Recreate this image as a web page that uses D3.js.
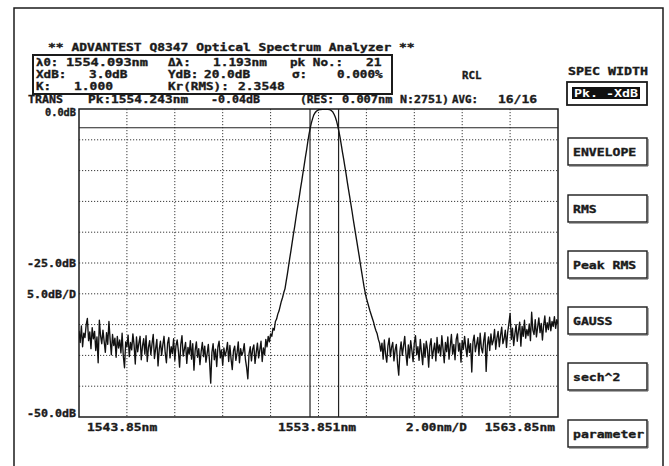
<!DOCTYPE html>
<html>
<head>
<meta charset="utf-8">
<script src="https://cdn.jsdelivr.net/npm/d3@7/dist/d3.min.js"></script>
<style>
  body { margin: 0; background: #fff; }
  svg text { font-family: "DejaVu Sans Mono", monospace; font-weight: bold; font-size: 10.5px; fill: #1b1b1b; stroke: #1b1b1b; stroke-width: 0.35px; }
</style>
</head>
<body>
<svg id="chart" width="669" height="466"></svg>
<script>
// sweep settings of the analyzer (start wavelength, sampling step)
const sweepStartNm = 1543.851
const sweepStepNm = 0.05

// measured level, dB, one value per sample
const levelDb = [
  // noise floor, short side
  -36.0, -37.9, -35.2, -38.6, -36.4, -37.1, -35.0, -34.0, -37.6, -36.2,
  -38.9, -35.5, -37.3, -36.1, -39.2, -37.0, -41.2, -34.3, -36.8, -38.1,
  -35.9, -37.7, -39.5, -36.3, -38.2, -34.5, -37.4, -39.9, -36.6, -38.4,
  -37.2, -40.3, -36.9, -38.8, -37.5, -39.6, -36.4, -40.1, -42.0, -37.8,
  -38.6, -36.7, -40.2, -37.9, -39.1, -36.5, -38.3, -41.4, -37.0, -39.4,
  -38.0, -36.9, -40.7, -38.5, -37.3, -39.8, -36.8, -41.0, -38.7, -37.6,
  -39.9, -38.1, -36.6, -40.5, -38.9, -37.4, -41.7, -39.0, -37.7, -40.0,
  -38.3, -36.9, -39.6, -41.2, -38.0, -37.1, -40.4, -38.6, -39.7, -37.3,
  -40.8, -38.4, -37.5, -39.3, -41.9, -38.2, -36.8, -40.1, -39.0, -37.9,
  -41.3, -38.7, -39.8, -37.6, -40.6, -38.1, -42.4, -39.2, -37.8, -40.3,
  -38.9, -41.5, -39.4, -37.9, -40.2, -38.5, -41.1, -39.7, -38.2, -40.9,
  -44.5, -39.5, -38.1, -40.7, -39.0, -41.8, -38.6, -37.7, -40.4, -39.1,
  -41.6, -38.8, -40.1, -39.3, -37.9, -41.0, -38.4, -40.6, -42.3, -39.2,
  -38.5, -40.8, -39.6, -37.8, -41.2, -38.9, -40.0, -39.4, -38.1, -40.7,
  -42.0, -43.8, -39.7, -38.6, -40.9, -39.0, -38.3, -41.3, -39.5, -38.0,
  -40.4, -39.1, -37.7, -41.0, -38.8, -39.9, -37.4, -38.6, -36.9, -37.8,
  // filter passband
  -36.5, -36.9, -35.6, -35.9, -34.5, -34.1, -33.3, -32.8, -32.0, -31.2,
  -30.6, -29.8, -29.2, -28.0, -26.8, -25.5, -24.2, -23.0, -21.7, -20.4,
  -19.2, -17.9, -16.6, -15.4, -14.2, -12.9, -11.7, -10.4, -9.2, -7.9,
  -6.7, -5.4, -4.2, -3.2, -2.3, -1.6, -1.0, -0.65, -0.4, -0.25,
  -0.15, -0.1, -0.08, -0.07, -0.06, -0.05, -0.04, -0.04, -0.05, -0.08,
  -0.15, -0.3, -0.5, -0.85, -1.3, -1.9, -2.7, -3.6, -4.6, -5.8,
  -7.0, -8.1, -9.3, -10.5, -11.8, -13.0, -14.2, -15.4, -16.6, -17.9,
  -19.1, -20.3, -21.5, -22.7, -23.9, -25.2, -26.4, -27.6, -28.8, -29.8,
  -30.7, -31.4, -32.1, -32.8, -33.4, -34.0, -34.6, -35.4, -36.0, -36.5,
  -37.4, -38.0,
  // noise floor, long side
  -39.3, -38.0, -40.6, -37.5, -39.8, -41.1, -38.4, -37.2, -40.2, -38.7,
  -37.9, -40.9, -39.1, -38.2, -41.3, -43.2, -39.4, -37.8, -40.0, -38.5,
  -36.9, -39.7, -41.6, -38.3, -40.4, -37.6, -39.2, -41.0, -38.0, -36.8,
  -39.9, -38.6, -40.8, -37.4, -39.5, -41.5, -38.1, -40.3, -37.7, -39.0,
  -41.9, -38.4, -37.3, -40.5, -39.2, -38.0, -40.9, -37.1, -39.6, -38.3,
  -40.1, -36.8, -38.9, -41.2, -37.9, -39.4, -37.0, -40.6, -38.5, -36.6,
  -39.8, -38.2, -40.7, -37.4, -36.5, -39.3, -38.0, -41.1, -37.6, -39.0,
  -36.9, -38.7, -40.2, -37.3, -39.5, -38.1, -42.7, -37.8, -36.7, -39.4,
  -38.2, -37.1, -40.0, -36.4, -38.8, -39.6, -37.5, -36.3, -42.6, -38.4,
  -37.0, -39.2, -36.5, -38.3, -37.6, -35.8, -39.0, -37.2, -36.1, -38.6,
  -36.8, -35.4, -38.1, -37.3, -35.9, -38.7, -36.2, -34.8, -33.2, -37.4,
  -35.6, -38.4, -36.5, -35.0, -37.7, -36.0, -34.6, -38.5, -35.3, -36.9,
  -34.3, -37.2, -35.8, -36.8, -34.9, -37.6, -33.0, -35.9, -36.6, -34.2,
  -37.0, -35.4, -33.9, -36.3, -34.8, -37.5, -35.1, -33.6, -36.2, -34.7,
  -35.8, -33.8, -36.0, -34.5, -35.3, -33.7, -35.6, -34.2, -34.9
]

// screen scale settings
const centerNm = 1553.851
const nmPerDiv = 2.0
const refDb = 0.0
const dbPerDiv = 5.0

// spectral width result
const lambda0Nm = 1554.093
const deltaLambdaNm = 1.193
const xdB = 3.0
const peakDb = -0.04

const titleText = '** ADVANTEST Q8347 Optical Spectrum Analyzer **'
const resultRows = [
  ['λ0:', '1554.093nm', 'Δλ:', '1.193nm', 'pk No.:', '21'],
  ['XdB:', '3.0dB', 'YdB:', '20.0dB', 'σ:', '0.000%'],
  ['K:', '1.000', 'Kr(RMS):', '2.3548']
]
const statusItems = ['TRANS', 'Pk:1554.243nm', '-0.04dB', '(RES:', '0.007nm', 'N:2751)', 'AVG:', '16/16']
const yLabels = ['0.0dB', '-25.0dB', '5.0dB/D', '-50.0dB']
const xLabels = ['1543.85nm', '1553.851nm', '2.00nm/D', '1563.85nm']
const menuTitle = 'SPEC WIDTH'
const activeButton = 'Pk. -XdB'
const buttonLabels = ['ENVELOPE', 'RMS', 'Peak RMS', 'GAUSS', 'sech^2', 'parameter']

const svg = d3.select('#chart')
const ink = '#1b1b1b'

// text with a fixed character pitch, like the instrument's screen font
function txt(x, y, s, pitch = 7.8, anchor = 'start') {
  return svg.append('text')
    .attr('x', x).attr('y', y)
    .attr('text-anchor', anchor)
    .attr('textLength', s.length * pitch)
    .attr('lengthAdjust', 'spacingAndGlyphs')
    .text(s)
}

// outer frame
svg.append('path')
  .attr('d', 'M14,466V8H663V466')
  .attr('fill', 'none').attr('stroke', ink).attr('stroke-width', 1.5)

// header
txt(48, 51, titleText, 7.8)

svg.append('rect')
  .attr('x', 33).attr('y', 55).attr('width', 359).attr('height', 39)
  .attr('fill', 'none').attr('stroke', ink).attr('stroke-width', 2)

// [x, pitch] of each field, row by row
const fieldPos = [
  [[36, 7.4], [66, 8.2], [168, 7.6], [213, 7.7], [290, 7.6], [366, 7.8]],
  [[36, 7.6], [89, 7.7], [168, 7.6], [204, 7.7], [292, 7.6], [337, 7.6]],
  [[36, 7.6], [74, 7.8], [168, 7.6], [238, 7.8]]
]
const rowY = [66, 78, 90]
resultRows.forEach((row, r) => {
  row.forEach((s, c) => txt(fieldPos[r][c][0], rowY[r], s, fieldPos[r][c][1]))
})

const statusPos = [[28, 7.0], [88, 7.7], [211, 7.0], [300, 6.8], [342, 7.2], [400, 7.0], [452, 6.5], [498, 7.8]]
statusItems.forEach((s, i) => txt(statusPos[i][0], 103, s, statusPos[i][1]))

txt(462, 79, 'RCL', 6.5)

// plot area
const plot = { left: 79, right: 558, top: 109, bottom: 417 }

const x = d3.scaleLinear()
  .domain([centerNm - 5 * nmPerDiv, centerNm + 5 * nmPerDiv])
  .range([plot.left, plot.right])

const y = d3.scaleLinear()
  .domain([refDb - 10 * dbPerDiv, refDb])
  .range([plot.bottom, plot.top])

// dotted grid
const grid = svg.append('g')
  .attr('stroke', '#3a3a3a').attr('stroke-width', 1).attr('stroke-dasharray', '1.2,1.8')

grid.selectAll('.v')
  .data(d3.range(1, 10).map(k => x.domain()[0] + k * nmPerDiv))
  .join('line')
  .attr('x1', d => x(d)).attr('x2', d => x(d))
  .attr('y1', plot.top).attr('y2', plot.bottom)

grid.selectAll('.h')
  .data(d3.range(1, 10).map(k => y.domain()[0] + k * dbPerDiv))
  .join('line')
  .attr('x1', plot.left).attr('x2', plot.right)
  .attr('y1', d => y(d)).attr('y2', d => y(d))

// plot border
svg.append('rect')
  .attr('x', plot.left).attr('y', plot.top)
  .attr('width', plot.right - plot.left).attr('height', plot.bottom - plot.top)
  .attr('fill', 'none').attr('stroke', ink).attr('stroke-width', 1.5)

// markers: -XdB level and spectral width
const markers = svg.append('g').attr('stroke', '#222').attr('stroke-width', 1.2)
markers.append('line')
  .attr('x1', plot.left).attr('x2', plot.right)
  .attr('y1', y(peakDb - xdB)).attr('y2', y(peakDb - xdB))
;[lambda0Nm - deltaLambdaNm / 2, lambda0Nm + deltaLambdaNm / 2].forEach(w => {
  markers.append('line')
    .attr('x1', x(w)).attr('x2', x(w))
    .attr('y1', plot.top).attr('y2', plot.bottom)
})

// trace
svg.append('clipPath').attr('id', 'clip')
  .append('rect')
  .attr('x', plot.left).attr('y', plot.top)
  .attr('width', plot.right - plot.left).attr('height', plot.bottom - plot.top)

const line = d3.line()
  .x((d, i) => x(sweepStartNm + i * sweepStepNm))
  .y(d => y(d))

svg.append('path')
  .datum(levelDb)
  .attr('clip-path', 'url(#clip)')
  .attr('d', line)
  .attr('fill', 'none').attr('stroke', '#111').attr('stroke-width', 1.35)
  .attr('stroke-linejoin', 'round')

// y labels
txt(76, 116, yLabels[0], 6.2, 'end')
txt(76, y(-25) + 4, yLabels[1], 7.0, 'end')
txt(76, y(-30) + 4, yLabels[2], 7.0, 'end')
txt(76, 417, yLabels[3], 7.0, 'end')

// x labels
txt(87, 431, xLabels[0], 7.8)
txt(278, 431, xLabels[1], 7.8)
txt(406, 431, xLabels[2], 7.6)
txt(555, 431, xLabels[3], 7.8, 'end')

// right-hand soft keys
txt(568, 75, menuTitle, 8.0)

svg.append('rect')
  .attr('x', 567).attr('y', 82).attr('width', 80).attr('height', 23)
  .attr('fill', 'none').attr('stroke', ink).attr('stroke-width', 1.8)
svg.append('rect')
  .attr('x', 572).attr('y', 87).attr('width', 68).attr('height', 12)
  .attr('fill', '#111')
txt(574, 97, activeButton, 8.0).style('fill', '#fff').style('stroke', 'none')

const buttonTop = [138, 195, 251, 307, 363, 420]
buttonLabels.forEach((s, i) => {
  const g = svg.append('g').attr('transform', `translate(568,${buttonTop[i]})`)
  g.append('rect')
    .attr('width', 79).attr('height', 27)
    .attr('fill', 'none').attr('stroke', ink).attr('stroke-width', 1.4)
  g.append('path')
    .attr('d', 'M1,28H80V1')
    .attr('fill', 'none').attr('stroke', '#555').attr('stroke-width', 1)
  g.append('text')
    .attr('x', 5).attr('y', 17.5)
    .attr('textLength', s.length * 7.9)
    .attr('lengthAdjust', 'spacingAndGlyphs')
    .text(s)
})
</script>
</body>
</html>
